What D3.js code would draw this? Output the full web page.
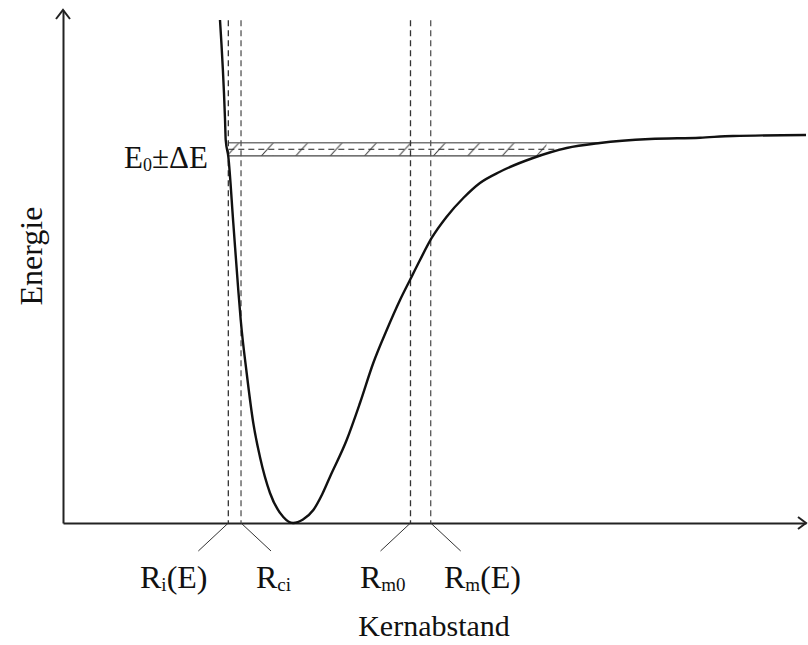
<!DOCTYPE html>
<html>
<head>
<meta charset="utf-8">
<script src="https://cdn.jsdelivr.net/npm/d3@7"></script>
<style>
  html, body { margin: 0; padding: 0; background: #fff; }
  svg text { font-family: "Liberation Serif", "Times New Roman", serif; fill: #111; }
</style>
</head>
<body>
<svg id="chart" width="808" height="645"></svg>
<script>
// Potential energy curve: internuclear distance (Kernabstand) vs. energy, arbitrary units
const distance = [2.113, 2.180, 2.190, 2.225, 2.292, 2.359, 2.392, 2.472, 2.561, 2.651, 2.786, 2.965, 3.096,
                  3.230, 3.369, 3.487, 3.594, 3.818, 3.997, 4.176, 4.357, 4.536, 4.670, 4.805, 4.962, 5.164,
                  5.388, 5.612, 5.881, 6.326, 6.779, 7.227, 7.900, 8.573, 9.017, 10.0];
const energy   = [9.805, 7.895, 7.466, 7.140, 5.848, 4.542, 3.957, 2.924, 1.949, 1.287, 0.585, 0.117, 0.0,
                  0.068, 0.253, 0.556, 0.903, 1.618, 2.339, 3.119, 3.762, 4.347, 4.737, 5.127, 5.556, 5.971,
                  6.335, 6.628, 6.848, 7.115, 7.310, 7.407, 7.485, 7.511, 7.544, 7.563];

// Characteristic distances marked by dashed verticals
const markerPos   = [2.225, 2.396, 4.677, 4.949];
const markerMain  = ["R", "R", "R", "R"];
const markerSub   = ["i", "ci", "m0", "m"];
const markerTail  = ["(E)", "", "", "(E)"];
const leaderSide  = [-1, 1, -1, 1];

// Energy band E0 ± ΔE
const E0 = 7.285;
const dE = 0.127;

const svg = d3.select("#chart");
const x = d3.scaleLinear().domain([0, 10]).range([63, 806]);
const y = d3.scaleLinear().domain([0, 10]).range([523, 10]);

// Axes without ticks, finished with open arrowheads
svg.append("g").attr("transform", `translate(0,${y(0)})`)
  .call(d3.axisBottom(x).tickValues([]).tickSizeOuter(0));
svg.append("g").attr("transform", `translate(${x(0)},0)`)
  .call(d3.axisLeft(y).tickValues([]).tickSizeOuter(0));
svg.selectAll(".domain").attr("stroke", "#222").attr("stroke-width", 2);

const arrow = svg.append("g").attr("fill", "none").attr("stroke", "#222").attr("stroke-width", 2);
arrow.append("path").attr("d", `M${x(0) - 7},${y(10) + 9}L${x(0)},${y(10)}L${x(0) + 7},${y(10) + 9}`);
arrow.append("path").attr("d", `M${x(10) - 8},${y(0) - 6}L${x(10)},${y(0)}L${x(10) - 8},${y(0) + 6}`);

// Where the right branch of the curve reaches a given energy
const pts = distance.map((d, i) => [d, energy[i]]);
const iMin = d3.minIndex(energy);
function rightCrossing(level) {
  for (let i = iMin; i < pts.length - 1; i++) {
    const [x0, y0] = pts[i], [x1, y1] = pts[i + 1];
    if ((y0 - level) * (y1 - level) <= 0) return x0 + (level - y0) / (y1 - y0) * (x1 - x0);
  }
  return distance[distance.length - 1];
}

// Hatched energy band
const bandLeft = markerPos[0];
const topEnd = rightCrossing(E0 + dE);
const midEnd = rightCrossing(E0);
const botEnd = rightCrossing(E0 - dE);
const bandH = y(E0 - dE) - y(E0 + dE);

const defs = svg.append("defs");
const hatch = defs.append("pattern").attr("id", "hatch")
  .attr("patternUnits", "userSpaceOnUse")
  .attr("x", x(bandLeft) + 4.7 - 17.2).attr("y", y(E0 + dE))
  .attr("width", 34.4).attr("height", bandH);
hatch.append("line")
  .attr("x1", 11.2).attr("y1", bandH)
  .attr("x2", 23.2).attr("y2", 0)
  .attr("stroke", "#333").attr("stroke-width", 1);

svg.append("rect")
  .attr("x", x(bandLeft)).attr("y", y(E0 + dE))
  .attr("width", x(botEnd) - x(bandLeft) + 6)
  .attr("height", bandH)
  .attr("fill", "url(#hatch)");

const band = svg.append("g").attr("fill", "none");
band.append("line").attr("x1", x(bandLeft)).attr("x2", x(topEnd))
  .attr("y1", y(E0 + dE)).attr("y2", y(E0 + dE))
  .attr("stroke", "#777").attr("stroke-width", 1.6);
band.append("line").attr("x1", x(bandLeft)).attr("x2", x(botEnd))
  .attr("y1", y(E0 - dE)).attr("y2", y(E0 - dE))
  .attr("stroke", "#444").attr("stroke-width", 1.2);
band.append("line").attr("x1", x(bandLeft)).attr("x2", x(midEnd))
  .attr("y1", y(E0)).attr("y2", y(E0))
  .attr("stroke", "#222").attr("stroke-width", 1).attr("stroke-dasharray", "6,4");

// Dashed marker lines
svg.append("g").selectAll("line").data(markerPos).join("line")
  .attr("x1", d => x(d)).attr("x2", d => x(d))
  .attr("y1", y(9.8)).attr("y2", y(0))
  .attr("stroke", (d, i) => i % 2 ? "#555" : "#333")
  .attr("stroke-width", 1.3)
  .attr("stroke-dasharray", "6,4");

// Potential curve
const line = d3.line().x(d => x(d[0])).y(d => y(d[1])).curve(d3.curveMonotoneX);
svg.append("path").datum(pts)
  .attr("d", line)
  .attr("fill", "none").attr("stroke", "#111").attr("stroke-width", 2.4);

// Leader lines and labels
svg.append("g").selectAll("line").data(markerPos).join("line")
  .attr("x1", d => x(d)).attr("y1", y(0))
  .attr("x2", (d, i) => x(d) + leaderSide[i] * 30).attr("y2", y(0) + 28)
  .attr("stroke", "#333").attr("stroke-width", 1);

const labelStart = [140, 256, 360, 444];
const labels = svg.append("g").selectAll("text").data(markerPos).join("text")
  .attr("x", (d, i) => labelStart[i]).attr("y", 588)
  .attr("font-size", 32);
labels.append("tspan").text((d, i) => markerMain[i]);
labels.append("tspan").attr("font-size", 19).attr("dy", 3).text((d, i) => markerSub[i]);
labels.append("tspan").attr("dy", -3).text((d, i) => markerTail[i]);

// Band label
const eLab = svg.append("text").attr("x", 124).attr("y", 168)
  .attr("font-size", 31);
eLab.append("tspan").text("E");
eLab.append("tspan").attr("font-size", 18).attr("dy", 3).text("0");
eLab.append("tspan").attr("dy", -3).text("±ΔE");

// Axis titles
svg.append("text").attr("x", 434).attr("y", 636)
  .attr("text-anchor", "middle").attr("font-size", 30).text("Kernabstand");
svg.append("text").attr("transform", "translate(42,256) rotate(-90)")
  .attr("text-anchor", "middle").attr("font-size", 32).text("Energie");
</script>
</body>
</html>
